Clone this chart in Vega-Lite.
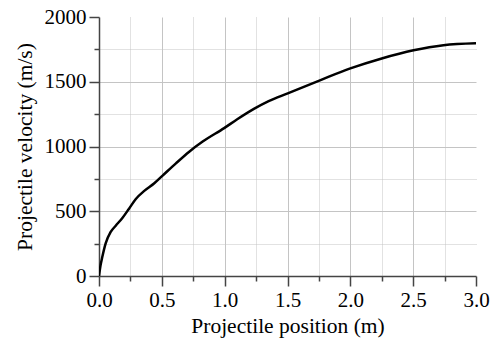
{
  "$schema": "https://vega.github.io/schema/vega-lite/v6.json",
  "autosize": {"type": "none"},
  "width": 377,
  "height": 259,
  "padding": {"left": 99, "top": 17, "right": 16, "bottom": 67},
  "background": "white",
  "config": {
    "view": {"stroke": null},
    "font": "Liberation Serif",
    "text": {"font": "Liberation Serif"},
    "axis": {"labelFont": "Liberation Serif", "titleFont": "Liberation Serif"},
    "style": {"guide-label": {"font": "Liberation Serif"}, "guide-title": {"font": "Liberation Serif"}}
  },
  "data": {
    "values": [
      {"x": 0, "v": 0},
      {"x": 0.012, "v": 80},
      {"x": 0.027, "v": 150},
      {"x": 0.053, "v": 252},
      {"x": 0.093, "v": 340},
      {"x": 0.133, "v": 388},
      {"x": 0.186, "v": 448},
      {"x": 0.239, "v": 520},
      {"x": 0.293, "v": 595},
      {"x": 0.36, "v": 657},
      {"x": 0.44, "v": 716},
      {"x": 0.506, "v": 775},
      {"x": 0.612, "v": 870},
      {"x": 0.718, "v": 960},
      {"x": 0.825, "v": 1038},
      {"x": 0.996, "v": 1142},
      {"x": 1.1, "v": 1210},
      {"x": 1.236, "v": 1292},
      {"x": 1.35, "v": 1350},
      {"x": 1.502, "v": 1410},
      {"x": 1.768, "v": 1515},
      {"x": 2.0, "v": 1603},
      {"x": 2.25, "v": 1680},
      {"x": 2.503, "v": 1743},
      {"x": 2.741, "v": 1782},
      {"x": 3.0, "v": 1797}
    ]
  },
  "mark": {"type": "line", "color": "black", "strokeWidth": 2.5, "interpolate": "monotone", "clip": true},
  "encoding": {
    "x": {
      "field": "x",
      "type": "quantitative",
      "scale": {"domain": [0, 3], "nice": false, "zero": false},
      "axis": {
        "title": "Projectile position (m)",
        "values": [0, 0.25, 0.5, 0.75, 1, 1.25, 1.5, 1.75, 2, 2.25, 2.5, 2.75, 3],
        "labelExpr": "datum.value % 0.5 === 0 ? format(datum.value, '.1f') : ''",
        "labelFont": "Liberation Serif",
        "titleFont": "Liberation Serif",
        "labelFontSize": 21,
        "titleFontSize": 21.5,
        "labelColor": "black",
        "titleColor": "black",
        "titleFontWeight": "normal",
        "labelPadding": 3,
        "titlePadding": 5,
        "domainColor": "#444",
        "domainWidth": 1.5,
        "tickColor": "#444",
        "tickWidth": 1.5,
        "tickSize": {"condition": {"test": "datum.value % 0.5 !== 0", "value": 5}, "value": 10},
        "grid": true,
        "gridColor": "#c4c4c4",
        "gridWidth": 1,
        "gridDash": {"condition": {"test": "datum.value % 0.5 !== 0", "value": [1, 1]}, "value": []},
        "gridOpacity": {"condition": {"test": "datum.value >= 3 || datum.value === 0", "value": 0}, "value": 1},
        "labelFlush": false,
        "labelOverlap": false
      }
    },
    "y": {
      "field": "v",
      "type": "quantitative",
      "scale": {"domain": [0, 2000], "nice": false},
      "axis": {
        "title": "Projectile velocity (m/s)",
        "values": [0, 250, 500, 750, 1000, 1250, 1500, 1750, 2000],
        "labelExpr": "datum.value % 500 === 0 ? datum.label : ''",
        "format": "d",
        "labelFont": "Liberation Serif",
        "titleFont": "Liberation Serif",
        "labelFontSize": 21,
        "titleFontSize": 21.5,
        "labelColor": "black",
        "titleColor": "black",
        "titleFontWeight": "normal",
        "labelPadding": 3,
        "titlePadding": 8,
        "domainColor": "#444",
        "domainWidth": 1.5,
        "tickColor": "#444",
        "tickWidth": 1.5,
        "tickSize": {"condition": {"test": "datum.value % 500 !== 0", "value": 5}, "value": 10},
        "grid": true,
        "gridColor": "#c4c4c4",
        "gridWidth": 1,
        "gridDash": {"condition": {"test": "datum.value % 500 !== 0", "value": [1, 1]}, "value": []},
        "gridOpacity": {"condition": {"test": "datum.value >= 2000 || datum.value === 0", "value": 0}, "value": 1},
        "labelFlush": false,
        "labelOverlap": false
      }
    }
  }
}
